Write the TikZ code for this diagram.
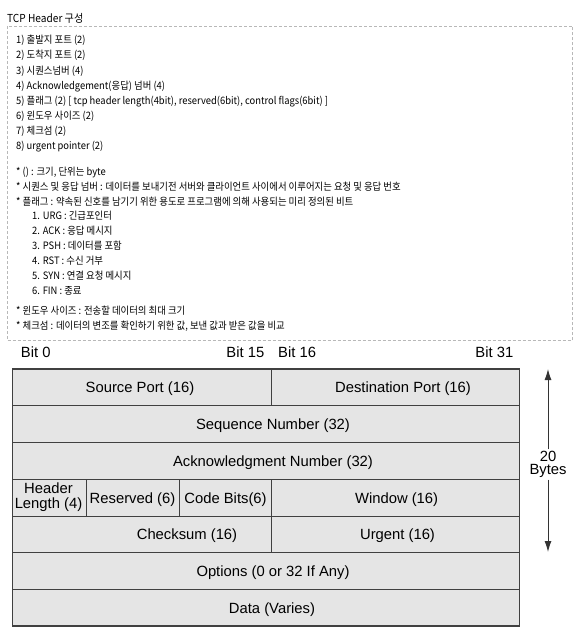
\documentclass[tikz,border=0pt]{standalone}
\usepackage{fontspec}
\setmainfont{Liberation Sans}
\newfontfamily\krfont[FakeStretch=0.92]{Noto Sans CJK KR}
\usetikzlibrary{arrows.meta}

\begin{document}
\begin{tikzpicture}[x=1pt, y=-1pt,
  note/.style={font=\krfont\fontsize{10.2}{12}\selectfont, inner sep=0pt, anchor=base west, text=black},
  field/.style={font=\fontsize{14.8}{15}\selectfont, inner sep=0pt, align=center, text=black},
  bitlabel/.style={font=\fontsize{14.8}{15}\selectfont, inner sep=0pt, text=black},
  grid/.style={draw=black!75, line width=0.9pt},
  dashbox/.style={draw=black!28, line width=0.8pt, dash pattern=on 3pt off 2pt}]
  \useasboundingbox (0,0) rectangle (573,636);

  % notes above the header
  \node[note, font=\krfont\fontsize{11}{12}\selectfont] (title) at (7,22.7) {TCP Header 구성};
  \draw[dashbox] (7.3,26) rectangle (572.3,340.7);
  \foreach \t [count=\i] in {{1) 출발지 포트 (2)}, {2) 도착지 포트 (2)}, {3) 시퀀스넘버 (4)},
      {4) Acknowledgement(응답) 넘버 (4)},
      {5) 플래그 (2) [ tcp header length(4bit), reserved(6bit), control flags(6bit) ]},
      {6) 윈도우 사이즈 (2)}, {7) 체크섬 (2)}, {8) urgent pointer (2)}}
    \node[note] (item\i) at (16,{43.8+15.14*(\i-1)}) {\t};
  \foreach \y/\x/\t [count=\i] in {175.3/16/{* () : 크기, 단위는 byte},
      190.2/16/{* 시퀀스 및 응답 넘버 : 데이터를 보내기전 서버와 클라이언트 사이에서 이루어지는 요청 및 응답 번호},
      205/16/{* 플래그 : 약속된 신호를 남기기 위한 용도로 프로그램에 의해 사용되는 미리 정의된 비트},
      219.9/32/{1. URG : 긴급포인터}, 234.7/32/{2. ACK : 응답 메시지},
      249.6/32/{3. PSH : 데이터를 포함}, 264.4/32/{4. RST : 수신 거부},
      279.3/32/{5. SYN : 연결 요청 메시지}, 294.1/32/{6. FIN : 종료},
      314.8/16/{* 윈도우 사이즈 : 전송할 데이터의 최대 크기},
      329.8/16/{* 체크섬 : 데이터의 변조를 확인하기 위한 값, 보낸 값과 받은 값을 비교}}
    \node[note] (remark\i) at (\x,\y) {\t};

  % bit positions
  \node[bitlabel, anchor=base west] (bit0) at (20.7,357) {Bit 0};
  \node[bitlabel, anchor=base east] (bit15) at (264.5,357) {Bit 15};
  \node[bitlabel, anchor=base west] (bit16) at (278,357) {Bit 16};
  \node[bitlabel, anchor=base east] (bit31) at (513.5,357) {Bit 31};

  % header fields
  \fill[black!10] (12.3,369) rectangle (519.5,626);
  \foreach \y in {405.7,442.3,479.3,516,552.7,589.3}
    \draw[grid] (12.3,\y) -- (519.5,\y);
  \draw[grid] (271.7,369) -- (271.7,405.7);
  \draw[grid] (86,479.3) -- (86,516);
  \draw[grid] (179,479.3) -- (179,516);
  \draw[grid] (271.7,479.3) -- (271.7,552.7);
  \draw[grid, line width=1.3pt] (12.3,369) rectangle (519.5,626);

  \node[field] (srcport) at (140,389) {Source Port (16)};
  \node[field] (dstport) at (403,389) {Destination Port (16)};
  \node[field] (seqnum) at (273,425.6) {Sequence Number (32)};
  \node[field] (acknum) at (273,462.4) {Acknowledgment Number (32)};
  \node[field] (hlen) at (48.5,497.5) {Header\\Length (4)};
  \node[field] (reserved) at (132.5,499.2) {Reserved (6)};
  \node[field] (codebits) at (225.5,499.2) {Code Bits(6)};
  \node[field] (window) at (396.6,499.2) {Window (16)};
  \node[field] (checksum) at (187,536) {Checksum (16)};
  \node[field] (urgent) at (397.5,536) {Urgent (16)};
  \node[field] (options) at (273,572.6) {Options (0 or 32 If Any)};
  \node[field] (data) at (272,609.2) {Data (Varies)};

  % size of the fixed part
  \node[field, font=\fontsize{14.8}{13.5}\selectfont, inner sep=1.5pt] (size) at (548,464.5) {20\\Bytes};
  \coordinate (sizetop) at (548,369);
  \coordinate (sizebot) at (548,552);
  \draw[draw=black!80, line width=0.9pt, -{Latex[length=11pt,width=7pt]}] (size) -- (sizetop);
  \draw[draw=black!80, line width=0.9pt, -{Latex[length=11pt,width=7pt]}] (size) -- (sizebot);
\end{tikzpicture}
\end{document}
